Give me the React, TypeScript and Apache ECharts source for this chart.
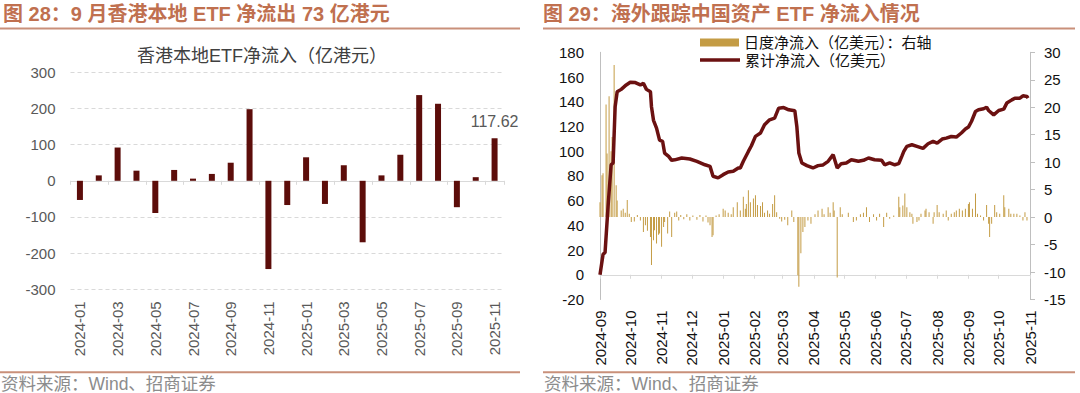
import React, { useEffect, useRef } from "react";
import * as echarts from "echarts";

const FONT = "'Liberation Sans', Arial, 'Noto Sans CJK SC', sans-serif";

// ---- Left chart: 香港本地ETF净流入（亿港元）
const hkMonths = [
  "2024-01", "2024-02", "2024-03", "2024-04", "2024-05", "2024-06", "2024-07", "2024-08",
  "2024-09", "2024-10", "2024-11", "2024-12", "2025-01", "2025-02", "2025-03", "2025-04",
  "2025-05", "2025-06", "2025-07", "2025-08", "2025-09", "2025-10", "2025-11",
];
const hkFlows = [-53, 15, 92, 28, -89, 30, 6, 19, 50, 198, -244, -67, 65, -64, 43, -170, 15, 72, 237, 213, -73, 10, 117.62];

// ---- Right chart: 累计净流入（亿美元） (left axis)
const cumDates = [
  "2024-09-01", "2024-09-04", "2024-09-06", "2024-09-09", "2024-09-12", "2024-09-14", "2024-09-16", "2024-09-18",
  "2024-09-22", "2024-09-27", "2024-10-01", "2024-10-06", "2024-10-11", "2024-10-14", "2024-10-17", "2024-10-21",
  "2024-10-22", "2024-10-24", "2024-10-27", "2024-10-30", "2024-11-02", "2024-11-04", "2024-11-08", "2024-11-11",
  "2024-11-14", "2024-11-21", "2024-11-29", "2024-12-06", "2024-12-14", "2024-12-19", "2024-12-22", "2024-12-27",
  "2025-01-01", "2025-01-06", "2025-01-11", "2025-01-16", "2025-01-18", "2025-01-21", "2025-01-26", "2025-01-29",
  "2025-02-02", "2025-02-07", "2025-02-11", "2025-02-16", "2025-02-21", "2025-02-25", "2025-03-02", "2025-03-07",
  "2025-03-13", "2025-03-15", "2025-03-17", "2025-03-20", "2025-03-25", "2025-03-31", "2025-04-05", "2025-04-10",
  "2025-04-15", "2025-04-20", "2025-04-24", "2025-04-28", "2025-05-03", "2025-05-08", "2025-05-15", "2025-05-20",
  "2025-05-25", "2025-05-31", "2025-06-07", "2025-06-10", "2025-06-15", "2025-06-20", "2025-06-24", "2025-06-27",
  "2025-06-29", "2025-07-02", "2025-07-07", "2025-07-12", "2025-07-18", "2025-07-23", "2025-07-28", "2025-08-01",
  "2025-08-06", "2025-08-10", "2025-08-15", "2025-08-20", "2025-08-25", "2025-08-29", "2025-09-01", "2025-09-04",
  "2025-09-08", "2025-09-11", "2025-09-16", "2025-09-19", "2025-09-21", "2025-09-26", "2025-10-01", "2025-10-06",
  "2025-10-09", "2025-10-14", "2025-10-17", "2025-10-22", "2025-10-25", "2025-10-29", "2025-10-30",
];
const cumValues = [
  0, 16.5, 18, 55.5, 89, 90.5, 136, 148,
  150, 153.6, 155.8, 155.5, 153.6, 155, 150, 148,
  136, 125, 118.7, 109, 108, 98.5, 95.8, 92.6,
  93, 94.5, 93.7, 91.8, 89, 87.7, 79.7, 78.4,
  81, 83.2, 83.7, 86.4, 86.4, 91.8, 99.8, 104.4,
  112, 114.7, 121.4, 125.4, 126.8, 134.8, 135.3, 133.5,
  132.7, 120, 98.5, 90.5, 88.3, 86.4, 88.3, 88.9,
  91.8, 97.2, 86.4, 89.9, 90.5, 93.1, 91.8, 92.6,
  94.5, 93.1, 92.6, 89, 90.5, 89, 89.9, 95.8,
  99.8, 103.9, 105.2, 103.9, 102.3, 106, 107.9, 106.6,
  109.8, 110.6, 111.9, 111.4, 114.7, 117.9, 119.5, 124,
  132.1, 133.5, 134.3, 135.6, 132.9, 129.4, 132.9, 134,
  138.9, 141.5, 142.9, 142.9, 144.8, 144.2, 142.9,
];

// ---- Right chart: 日度净流入（亿美元） (right axis)
const dailyDates = [
  "2024-09-01", "2024-09-03", "2024-09-04", "2024-09-07", "2024-09-08", "2024-09-10", "2024-09-12", "2024-09-13",
  "2024-09-15", "2024-09-17", "2024-09-18", "2024-09-22", "2024-09-24", "2024-09-26", "2024-09-28", "2024-09-30",
  "2024-10-02", "2024-10-05", "2024-10-08", "2024-10-11", "2024-10-14", "2024-10-16", "2024-10-18", "2024-10-21",
  "2024-10-22", "2024-10-24", "2024-10-25", "2024-10-27", "2024-10-29", "2024-10-30", "2024-11-01", "2024-11-03",
  "2024-11-04", "2024-11-07", "2024-11-09", "2024-11-11", "2024-11-14", "2024-11-16", "2024-11-18", "2024-11-20",
  "2024-11-23", "2024-11-26", "2024-11-29", "2024-12-02", "2024-12-06", "2024-12-09", "2024-12-12", "2024-12-15",
  "2024-12-17", "2024-12-19", "2024-12-21", "2024-12-22", "2024-12-25", "2024-12-28", "2025-01-01", "2025-01-03",
  "2025-01-06", "2025-01-09", "2025-01-11", "2025-01-15", "2025-01-18", "2025-01-21", "2025-01-23", "2025-01-24",
  "2025-01-26", "2025-01-28", "2025-01-31", "2025-02-02", "2025-02-04", "2025-02-07", "2025-02-09", "2025-02-11",
  "2025-02-14", "2025-02-16", "2025-02-19", "2025-02-21", "2025-02-23", "2025-02-26", "2025-02-28", "2025-03-03",
  "2025-03-06", "2025-03-10", "2025-03-12", "2025-03-16", "2025-03-17", "2025-03-19", "2025-03-21", "2025-03-23",
  "2025-03-26", "2025-03-29", "2025-04-02", "2025-04-05", "2025-04-09", "2025-04-11", "2025-04-15", "2025-04-17",
  "2025-04-20", "2025-04-21", "2025-04-24", "2025-04-27", "2025-04-29", "2025-05-05", "2025-05-10", "2025-05-13",
  "2025-05-17", "2025-05-20", "2025-05-23", "2025-05-26", "2025-05-30", "2025-06-02", "2025-06-05", "2025-06-09",
  "2025-06-12", "2025-06-15", "2025-06-19", "2025-06-24", "2025-06-25", "2025-06-28", "2025-06-30", "2025-07-02",
  "2025-07-05", "2025-07-07", "2025-07-08", "2025-07-12", "2025-07-14", "2025-07-16", "2025-07-20", "2025-07-21",
  "2025-07-24", "2025-07-28", "2025-07-29", "2025-08-01", "2025-08-03", "2025-08-07", "2025-08-10", "2025-08-12",
  "2025-08-15", "2025-08-18", "2025-08-20", "2025-08-23", "2025-08-26", "2025-08-29", "2025-09-01", "2025-09-02",
  "2025-09-05", "2025-09-08", "2025-09-10", "2025-09-13", "2025-09-16", "2025-09-19", "2025-09-21", "2025-09-22",
  "2025-09-24", "2025-09-27", "2025-09-29", "2025-10-02", "2025-10-06", "2025-10-07", "2025-10-11", "2025-10-13",
  "2025-10-16", "2025-10-19", "2025-10-22", "2025-10-25", "2025-10-27", "2025-10-29",
];
const dailyValues = [
  2.7, 7.6, 8, 20.5, 11.6, 22, 12, 14.6,
  27.7, 5.8, 3, 1.2, 1.5, 0.8, 3.1, 0.6,
  -0.9, -0.8, 0.4, -0.6, -2.7, -1.5, -2.5, -3.6,
  -8.7, -4.2, -2.4, -4.8, -3.2, -3.0, -5.4, -1.8,
  -0.9, -3, 1, -3.6, 0.8, 1, -0.6, 0.4,
  -0.4, 0.5, -0.6, 0.3, -0.5, 0.4, -0.8, 0.3,
  -1.0, -1.5, -3.6, -3.3, 0.3, 0.5, 1.5, 1.2,
  0.8, 0.5, 1.8, 2.7, 1.2, 3.7, 1.5, 2.4,
  4.9, 2.7, 3.4, 4.0, 2.2, 2.0, 2.7, 0.8,
  1.2, 0.6, 2.4, 4.0, 0.9, -0.3, -0.8, -0.5,
  -1.5, 1.2, -0.9, -10.6, -12.7, -6.6, -2.7, -1.8,
  -0.6, -1.2, 0.5, 1.2, 1.5, 0.5, 1.8, 0.8,
  2.7, 1.2, -11.0, 1.8, 0.5, 0.8, -0.9, -0.6,
  0.5, 0.8, 1.8, -0.9, 0.5, -0.6, 0.6, -1.8,
  0.8, -0.3, 0.3, 3.7, 1.8, 2.1, 4.3, 1.8,
  0.9, 0.6, -1.2, -0.9, -0.6, 0.6, 1.2, 1.5,
  0.9, -1.2, 0.9, 2.2, 0.9, 0.6, 1.2, -0.6,
  0.6, 0.9, 1.2, 1.5, 1.2, 1.5, 2.4, 2.7,
  1.5, 4.3, 0.6, 0.3, -0.6, 2.2, -1.2, -3.6,
  -1.2, 2.2, 0.9, 0.6, 4.0, 1.8, 1.5, 0.6,
  0.6, 0.6, 0.3, -0.6, 0.9, -0.6,
];

// calendar-day categories of the right chart's date axis
const dayCategories: string[] = [];
for (let t = Date.UTC(2024, 8, 1); t <= Date.UTC(2025, 10, 1); t += 86400000) {
  dayCategories.push(new Date(t).toISOString().slice(0, 10));
}

const HEADER_COLOR = "#C0704F";
const RULE_COLOR = "#C9907A";

const textStyle = (extra: any) => ({
  fontFamily: FONT,
  textAlign: "left",
  textVerticalAlign: "middle",
  align: "left",
  verticalAlign: "middle",
  ...extra,
});

export default function App() {
  const ref = useRef<HTMLDivElement>(null);

  useEffect(() => {
    document.body.style.margin = "0";
    if (!ref.current) return;
    const chart = echarts.init(ref.current, undefined, { renderer: "svg" });
    const isMonthStart = (_i: number, v: string) => typeof v === "string" && v.endsWith("-01");

    chart.setOption({
      animation: false,
      textStyle: { fontFamily: FONT },
      grid: [
        { left: 70.5, top: 72.3, width: 433.5, height: 217 },
        { left: 600, top: 52.3, width: 430, height: 247.2 },
      ],
      legend: [
        {
          data: ["日度净流入（亿美元）：右轴"],
          left: 700,
          top: 35,
          icon: "rect",
          itemWidth: 39,
          itemHeight: 8,
          padding: 0,
          textStyle: { fontSize: 15, color: "#111", fontFamily: FONT },
        },
        {
          data: ["累计净流入（亿美元）"],
          left: 700,
          top: 52.5,
          icon: "rect",
          itemWidth: 40,
          itemHeight: 3.5,
          padding: 0,
          textStyle: { fontSize: 15, color: "#111", fontFamily: FONT },
        },
      ],
      xAxis: [
        {
          type: "category",
          gridIndex: 0,
          data: hkMonths,
          boundaryGap: true,
          axisLine: { onZero: true, onZeroAxisIndex: 0, lineStyle: { color: "#D9D9D9", width: 1 } },
          axisTick: { show: true, interval: 1, length: 4, lineStyle: { color: "#D9D9D9" } },
          axisLabel: { interval: 1, rotate: 90, fontSize: 15, color: "#595959", margin: 12, fontFamily: FONT },
          splitLine: { show: false },
        },
        {
          type: "category",
          gridIndex: 1,
          data: dayCategories,
          boundaryGap: false,
          axisLine: { onZero: true, onZeroAxisIndex: 1, lineStyle: { color: "#D9D9D9", width: 1 } },
          axisTick: { show: true, interval: isMonthStart, length: 4, lineStyle: { color: "#D9D9D9" } },
          axisLabel: {
            interval: isMonthStart,
            rotate: 90,
            fontSize: 15,
            color: "#111",
            margin: 11,
            fontFamily: FONT,
            formatter: (v: string) => v.slice(0, 7),
          },
          splitLine: { show: false },
        },
      ],
      yAxis: [
        {
          type: "value",
          gridIndex: 0,
          min: -300,
          max: 300,
          interval: 100,
          axisLine: { show: false },
          axisTick: { show: false },
          axisLabel: { fontSize: 15, color: "#595959", margin: 15, fontFamily: FONT },
          splitLine: { show: true, lineStyle: { color: "#D9D9D9", type: [4, 3], width: 1 } },
        },
        {
          type: "value",
          gridIndex: 1,
          position: "left",
          min: -20,
          max: 180,
          interval: 20,
          axisLine: { show: true, onZero: false, lineStyle: { color: "#BFBFBF", width: 1 } },
          axisTick: { show: false },
          axisLabel: { fontSize: 15, color: "#111", margin: 16, fontFamily: FONT },
          splitLine: { show: false },
        },
        {
          type: "value",
          gridIndex: 1,
          position: "right",
          min: -15,
          max: 30,
          interval: 5,
          axisLine: { show: true, onZero: false, lineStyle: { color: "#BFBFBF", width: 1 } },
          axisTick: { show: true, length: 5, lineStyle: { color: "#BFBFBF" } },
          axisLabel: { fontSize: 15, color: "#111", margin: 14, fontFamily: FONT },
          splitLine: { show: false },
        },
      ],
      series: [
        {
          name: "香港本地ETF净流入（亿港元）",
          type: "bar",
          xAxisIndex: 0,
          yAxisIndex: 0,
          barWidth: 6,
          itemStyle: { color: "#5C0D0A" },
          data: hkFlows.map((v, i) =>
            i === hkFlows.length - 1
              ? {
                  value: v,
                  label: {
                    show: true,
                    position: "top",
                    distance: 9,
                    fontSize: 16,
                    color: "#595959",
                    fontFamily: FONT,
                    formatter: (p: any) => p.value.toFixed(2),
                  },
                }
              : v
          ),
        },
        {
          name: "日度净流入（亿美元）：右轴",
          type: "bar",
          xAxisIndex: 1,
          yAxisIndex: 2,
          barWidth: 1,
          itemStyle: { color: "#C49C45" },
          data: dailyDates.map((d, i) => [d, dailyValues[i]]),
        },
        {
          name: "累计净流入（亿美元）",
          type: "line",
          xAxisIndex: 1,
          yAxisIndex: 1,
          symbol: "none",
          showSymbol: false,
          itemStyle: { color: "#6B1111" },
          lineStyle: { color: "#6B1111", width: 3.5 },
          data: cumDates.map((d, i) => [d, cumValues[i]]),
        },
      ],
      graphic: [
        {
          type: "text",
          x: 3,
          y: 14,
          style: textStyle({
            text: "图 28：9 月香港本地 ETF 净流出 73 亿港元",
            fontSize: 20,
            fontWeight: "bold",
            fill: HEADER_COLOR,
          }),
        },
        {
          type: "text",
          x: 543,
          y: 14,
          style: textStyle({
            text: "图 29：海外跟踪中国资产 ETF 净流入情况",
            fontSize: 20,
            fontWeight: "bold",
            fill: HEADER_COLOR,
          }),
        },
        { type: "rect", shape: { x: 0, y: 27.5, width: 520, height: 2 }, style: { fill: RULE_COLOR } },
        { type: "rect", shape: { x: 543, y: 27.5, width: 532, height: 2 }, style: { fill: RULE_COLOR } },
        {
          type: "text",
          x: 262,
          y: 56,
          style: textStyle({
            text: "香港本地ETF净流入（亿港元）",
            fontSize: 18,
            fill: "#404040",
            textAlign: "center",
            align: "center",
          }),
        },
        { type: "rect", shape: { x: 0, y: 371.3, width: 520, height: 2 }, style: { fill: RULE_COLOR } },
        { type: "rect", shape: { x: 543, y: 371.3, width: 532, height: 2 }, style: { fill: RULE_COLOR } },
        {
          type: "text",
          x: 1,
          y: 384,
          style: textStyle({ text: "资料来源：Wind、招商证券", fontSize: 17.5, fill: "#8C8C8C" }),
        },
        {
          type: "text",
          x: 544,
          y: 384,
          style: textStyle({ text: "资料来源：Wind、招商证券", fontSize: 17.5, fill: "#8C8C8C" }),
        },
      ],
    });

    return () => chart.dispose();
  }, []);

  return <div ref={ref} style={{ width: 1080, height: 393 }} />;
}
